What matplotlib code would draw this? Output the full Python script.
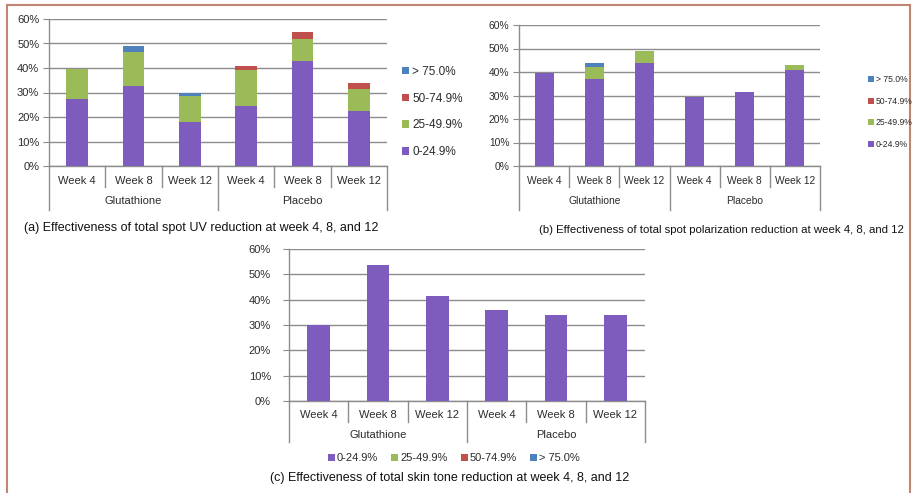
import numpy as np
import matplotlib
matplotlib.use("Agg")
from matplotlib import pyplot as plt
from matplotlib.lines import Line2D
from matplotlib.patches import Patch

W, H = 913, 493

weeks = ["Week 4", "Week 8", "Week 12", "Week 4", "Week 8", "Week 12"]
groups = ["Glutathione", "Placebo"]
bands = ["0-24.9%", "25-49.9%", "50-74.9%", "> 75.0%"]
band_colors = ["#7d5cbd", "#9bbb59", "#c0504d", "#4f81bd"]

# (a) total spot UV: % of subjects in each reduction band
uv_0_25 = [27.5, 32.5, 18.0, 24.5, 43.0, 22.5]
uv_25_50 = [12.0, 14.0, 10.5, 14.5, 9.0, 9.0]
uv_50_75 = [0.0, 0.0, 0.0, 2.0, 2.5, 2.5]
uv_75 = [0.0, 2.5, 1.5, 0.0, 0.0, 0.0]

# (b) total spot polarization
pol_0_25 = [39.5, 37.0, 44.0, 29.5, 31.5, 41.0]
pol_25_50 = [0.0, 5.0, 5.0, 0.0, 0.0, 2.0]
pol_50_75 = [0.0, 0.0, 0.0, 0.0, 0.0, 0.0]
pol_75 = [0.0, 2.0, 0.0, 0.0, 0.0, 0.0]

# (c) total skin tone
tone_0_25 = [30.0, 53.5, 41.5, 36.0, 34.0, 34.0]
tone_25_50 = [0.0, 0.0, 0.0, 0.0, 0.0, 0.0]
tone_50_75 = [0.0, 0.0, 0.0, 0.0, 0.0, 0.0]
tone_75 = [0.0, 0.0, 0.0, 0.0, 0.0, 0.0]

GRID = "#8c8c8c"
TXT = "#2b2b2b"
plt.rcParams["font.family"] = ["Liberation Sans", "DejaVu Sans"]

fig = plt.figure(figsize=(W / 100, H / 100), dpi=100)
fig.patch.set_facecolor("white")


def panel(box, stacks, tick_dy, group_dy, short_dy, long_dy, fs=8, pad=3):
    x0, y0, x1, y1 = box
    ax = fig.add_axes([x0 / W, 1 - y1 / H, (x1 - x0) / W, (y1 - y0) / H])
    hpx = y1 - y0
    x = np.arange(len(weeks))
    bottom = np.zeros(len(weeks))
    for vals, col, lab in zip(stacks, band_colors, bands):
        ax.bar(x, vals, 0.38, bottom=bottom, color=col, label=lab, zorder=3)
        bottom += np.array(vals)
    ax.set_xlim(-0.5, 5.5)
    ax.set_ylim(0, 60)
    ax.set_yticks(range(0, 61, 10))
    ax.set_yticklabels([f"{v}%" for v in range(0, 61, 10)], fontsize=fs, color=TXT)
    ax.tick_params(axis="y", length=4, color=GRID, pad=pad)
    ax.set_xticks([])
    ax.yaxis.grid(True, color=GRID, lw=1)
    ax.set_axisbelow(True)
    for s in ["top", "right"]:
        ax.spines[s].set_visible(False)
    for s in ["left", "bottom"]:
        ax.spines[s].set_color(GRID)
        ax.spines[s].set_linewidth(1)
    tr = ax.get_xaxis_transform()
    for i, w in enumerate(weeks):
        ax.text(i, -tick_dy / hpx, w, transform=tr, ha="center", va="center",
                fontsize=fs, color=TXT)
    for g, gx in zip(groups, [1, 4]):
        ax.text(gx, -group_dy / hpx, g, transform=tr, ha="center", va="center",
                fontsize=fs, color=TXT)
    for sx in [0.5, 1.5, 3.5, 4.5]:
        ax.add_line(Line2D([sx, sx], [0, -short_dy / hpx], transform=tr,
                           color=GRID, lw=1, clip_on=False))
    for sx in [-0.5, 2.5, 5.5]:
        ax.add_line(Line2D([sx, sx], [0, -long_dy / hpx], transform=tr,
                           color=GRID, lw=1, clip_on=False))
    return ax


def handles():
    return [Patch(facecolor=c, edgecolor="none", label=l) for c, l in zip(band_colors, bands)]


# (a)
ax_a = panel((49, 19, 387, 166), [uv_0_25, uv_25_50, uv_50_75, uv_75], 15, 35, 21, 44)
fig.legend(handles=handles()[::-1], loc="center left",
           bbox_to_anchor=(402 / W, 1 - 112 / H), frameon=False, fontsize=8.5,
           handlelength=0.6, handleheight=0.6, handletextpad=0.25,
           labelspacing=1.25, borderpad=0, borderaxespad=0, labelcolor=TXT)
fig.text(201 / W, 1 - 228 / H, "(a) Effectiveness of total spot UV reduction at week 4, 8, and 12",
         ha="center", va="center", fontsize=9, color="#111111")

# (b)
ax_b = panel((519, 25, 820, 166), [pol_0_25, pol_25_50, pol_50_75, pol_75], 15, 35, 21, 44, fs=7.4)
fig.legend(handles=handles()[::-1], loc="center left",
           bbox_to_anchor=(868 / W, 1 - 112 / H), frameon=False, fontsize=6.2,
           handlelength=0.7, handleheight=0.7, handletextpad=0.2,
           labelspacing=1.5, borderpad=0, borderaxespad=0, labelcolor=TXT)
fig.text(721 / W, 1 - 230 / H, "(b) Effectiveness of total spot polarization reduction at week 4, 8, and 12",
         ha="center", va="center", fontsize=8.2, color="#111111")

# (c)
ax_c = panel((289, 249, 645, 401), [tone_0_25, tone_25_50, tone_50_75, tone_75], 14, 34, 21, 41, pad=9)
fig.legend(handles=handles(), loc="center", ncol=4,
           bbox_to_anchor=(454 / W, 1 - 458 / H), frameon=False, fontsize=8,
           handlelength=0.6, handleheight=0.6, handletextpad=0.2,
           columnspacing=1.2, borderpad=0, borderaxespad=0, labelcolor=TXT)
fig.text(450 / W, 1 - 478 / H, "(c) Effectiveness of total skin tone reduction at week 4, 8, and 12",
         ha="center", va="center", fontsize=9, color="#111111")

# frame around the figure (open at the bottom)
frame = "#c08573"
fig.add_artist(Line2D([7 / W, 7 / W], [0, 1 - 5 / H], transform=fig.transFigure, color=frame, lw=1.5))
fig.add_artist(Line2D([7 / W, 910 / W], [1 - 5 / H, 1 - 5 / H], transform=fig.transFigure, color=frame, lw=1.5))
fig.add_artist(Line2D([910 / W, 910 / W], [0, 1 - 5 / H], transform=fig.transFigure, color=frame, lw=1.5))

fig.savefig("out.png", dpi=100, facecolor="white")
